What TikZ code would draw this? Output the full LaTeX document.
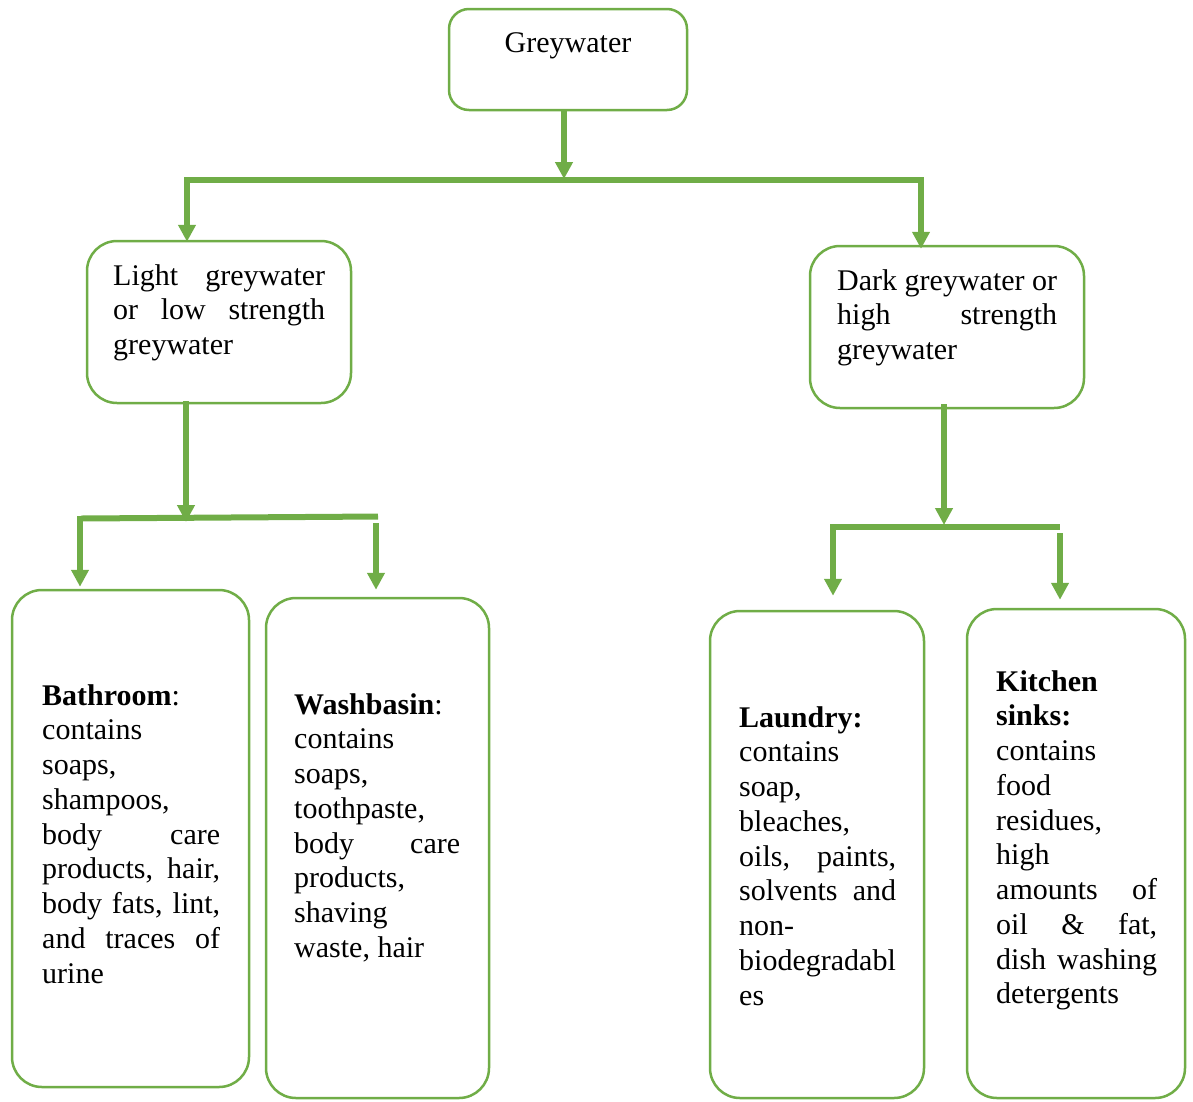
\documentclass[tikz,border=0pt]{standalone}
\usepackage{fontspec}
\setmainfont{Liberation Serif}
\usetikzlibrary{arrows.meta,calc}
\definecolor{gr}{HTML}{70AD47}
\newcommand{\jl}[2]{\makebox[#1][s]{#2}}
\begin{document}
\begin{tikzpicture}[x=1pt,y=-1pt,
  box/.style={draw=gr,line width=2.5pt,rounded corners=#1,inner sep=0pt,fill=white},
  box/.default=30pt,
  txt/.style={inner sep=0pt,font=\fontsize{30pt}{34.75pt}\selectfont,text=black},
  arr/.style={gr,line width=5.5pt,-{Triangle[length=17pt,width=17pt]}},
  bar/.style={gr,line width=6pt}]
\useasboundingbox (0,0) rectangle (1193,1101);
% boxes
\node[box=20pt,minimum width=238pt,minimum height=101pt] (grey) at (568,59.5) {};
\node[box,minimum width=264pt,minimum height=162pt] (light) at (219,322) {};
\node[box,minimum width=274pt,minimum height=162pt] (dark) at (947,327) {};
\node[box,minimum width=237pt,minimum height=497pt] (bath) at (130.5,838.5) {};
\node[box,minimum width=223pt,minimum height=500pt] (wash) at (377.5,848) {};
\node[box,minimum width=214pt,minimum height=487pt] (laun) at (817,854.5) {};
\node[box,minimum width=218pt,minimum height=489pt] (kitc) at (1076,853.5) {};
% texts
\node[txt,anchor=base] (greyT) at (568,52) {Greywater};
\node[txt,anchor=base west] (lightT) at (113,285) {\parbox[t]{212pt}{%
\jl{212pt}{Light greywater}\\
\jl{212pt}{or low strength}\\
greywater}};
\node[txt,anchor=base west] (darkT) at (837,290) {\parbox[t]{220pt}{%
\jl{220pt}{Dark greywater or}\\
\jl{220pt}{high strength}\\
greywater}};
\node[txt,anchor=base west] (bathT) at (42,705) {\parbox[t]{178pt}{%
\textbf{Bathroom}:\\
contains\\
soaps,\\
shampoos,\\
\jl{178pt}{body care}\\
\jl{178pt}{products, hair,}\\
\jl{178pt}{body fats, lint,}\\
\jl{178pt}{and traces of}\\
urine}};
\node[txt,anchor=base west] (washT) at (294,714) {\parbox[t]{166pt}{%
\textbf{Washbasin}:\\
contains\\
soaps,\\
toothpaste,\\
\jl{166pt}{body care}\\
products,\\
shaving\\
waste, hair}};
\node[txt,anchor=base west] (launT) at (739,727) {\parbox[t]{157pt}{%
\textbf{Laundry:}\\
contains\\
soap,\\
bleaches,\\
\jl{157pt}{oils, paints,}\\
\jl{157pt}{solvents and}\\
non-\\
biodegradabl\\
es}};
\node[txt,anchor=base west] (kitcT) at (996,691) {\parbox[t]{161pt}{%
\textbf{Kitchen}\\
\textbf{sinks:}\\
contains\\
food\\
residues,\\
high\\
\jl{161pt}{amounts of}\\
\jl{161pt}{oil \& fat,}\\
\jl{161pt}{dish washing}\\
detergents}};
% connectors: top level
\coordinate (j1) at (564,179);
\coordinate (b1l) at (187,180);
\coordinate (b1r) at (922,180);
\draw[arr] (grey.south -| j1) -- (j1);
\draw[bar] (b1l) -- (b1r);
\draw[arr] ($(b1l)+(0,-3)$) -- ($(b1l |- light.north)+(0,2)$);
\draw[arr] ($(b1r)+(-1,-3)$) -- ($(b1r |- dark.north)+(-1,4)$);
% light branch
\coordinate (j2) at (186,522);
\coordinate (b2l) at (81,518.5);
\coordinate (b2r) at (378,516.5);
\draw[arr] ($(light.south -| j2)+(0,-3)$) -- (j2);
\draw[bar] (b2l) -- (b2r);
\draw[arr] ($(b2l)+(-1,-3)$) -- ($(b2l |- bath.north)+(-1,-2)$);
\draw[arr] (376,523) -- ($(wash.north -| b2r)+(-2,-7)$);
% dark branch
\coordinate (j3) at (944,525);
\coordinate (b3l) at (830,527);
\coordinate (b3r) at (1060,527);
\draw[arr] ($(dark.south -| j3)+(0,-5)$) -- (j3);
\draw[bar] (b3l) -- (b3r);
\draw[arr] ($(b3l)+(3,-3)$) -- ($(b3l |- laun.north)+(3,-14)$);
\draw[arr] (1060,533) -- ($(kitc.north -| b3r)+(0,-8)$);
\end{tikzpicture}
\end{document}
